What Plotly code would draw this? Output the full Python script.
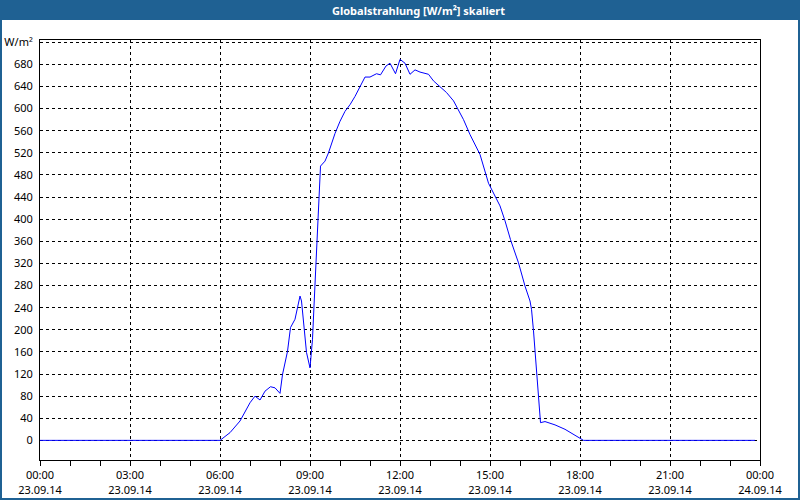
import plotly.graph_objects as go

# --- data ---
times = [
    "2014-09-23 00:00", "2014-09-23 06:00", "2014-09-23 06:20", "2014-09-23 06:40",
    "2014-09-23 07:00", "2014-09-23 07:10", "2014-09-23 07:20", "2014-09-23 07:30",
    "2014-09-23 07:41", "2014-09-23 07:50", "2014-09-23 08:00", "2014-09-23 08:05",
    "2014-09-23 08:15", "2014-09-23 08:21", "2014-09-23 08:30", "2014-09-23 08:40",
    "2014-09-23 08:43", "2014-09-23 08:48", "2014-09-23 08:53", "2014-09-23 09:00",
    "2014-09-23 09:02", "2014-09-23 09:05", "2014-09-23 09:08", "2014-09-23 09:12",
    "2014-09-23 09:20", "2014-09-23 09:21", "2014-09-23 09:30", "2014-09-23 09:37",
    "2014-09-23 09:50", "2014-09-23 10:00", "2014-09-23 10:10", "2014-09-23 10:20",
    "2014-09-23 10:30", "2014-09-23 10:40", "2014-09-23 10:50", "2014-09-23 11:00",
    "2014-09-23 11:13", "2014-09-23 11:21", "2014-09-23 11:32", "2014-09-23 11:40",
    "2014-09-23 11:51", "2014-09-23 12:00", "2014-09-23 12:10", "2014-09-23 12:20",
    "2014-09-23 12:30", "2014-09-23 12:40", "2014-09-23 12:57", "2014-09-23 13:07",
    "2014-09-23 13:20", "2014-09-23 13:33", "2014-09-23 13:47", "2014-09-23 13:57",
    "2014-09-23 14:07", "2014-09-23 14:20", "2014-09-23 14:40", "2014-09-23 14:57",
    "2014-09-23 15:07", "2014-09-23 15:20", "2014-09-23 15:30", "2014-09-23 15:41",
    "2014-09-23 15:57", "2014-09-23 16:10", "2014-09-23 16:20", "2014-09-23 16:23",
    "2014-09-23 16:27", "2014-09-23 16:30", "2014-09-23 16:33", "2014-09-23 16:37",
    "2014-09-23 16:40", "2014-09-23 16:41", "2014-09-23 16:50", "2014-09-23 17:10",
    "2014-09-23 17:30", "2014-09-23 17:47", "2014-09-23 18:03", "2014-09-23 18:07",
    "2014-09-23 23:50",
]
values = [
    0, 0, 14, 35,
    68, 80, 73, 89,
    97, 95, 85, 119,
    161, 204, 219, 261,
    252, 201, 159, 131,
    150, 183, 243, 321,
    457, 496, 505, 520,
    555, 577, 595, 607,
    622, 640, 657, 657,
    663, 661, 677, 682,
    663, 689, 682, 662,
    670, 666, 662, 650,
    640, 629, 614, 598,
    580, 553, 517, 465,
    448, 424, 397, 363,
    321, 279, 252, 237,
    198, 161, 122, 80,
    41, 32, 34, 28,
    20, 11, 2, 0,
    0,
]

x_tickvals = ["2014-09-23 00:00", "2014-09-23 03:00", "2014-09-23 06:00", "2014-09-23 09:00",
              "2014-09-23 12:00", "2014-09-23 15:00", "2014-09-23 18:00", "2014-09-23 21:00",
              "2014-09-24 00:00"]
x_ticktext = ["00:00<br>23.09.14", "03:00<br>23.09.14", "06:00<br>23.09.14", "09:00<br>23.09.14",
              "12:00<br>23.09.14", "15:00<br>23.09.14", "18:00<br>23.09.14", "21:00<br>23.09.14",
              "00:00<br>24.09.14"]
y_tickvals = list(range(0, 721, 40))
y_ticktext = [str(v) for v in range(0, 681, 40)] + ["W/m²"]

title_text = "Globalstrahlung [W/m²] skaliert"

W, H = 800, 500
BLUE = "#1f6193"

fig = go.Figure()
fig.add_trace(go.Scatter(x=times, y=values, mode="lines",
                         line=dict(color="#0000ff", width=1), showlegend=False,
                         hoverinfo="skip"))

font = dict(family="Noto Sans, DejaVu Sans, sans-serif", size=11, color="#000000")

fig.update_layout(
    width=W, height=H,
    margin=dict(l=40, r=40, t=40, b=40, pad=0),
    paper_bgcolor="#ffffff",
    plot_bgcolor="#ffffff",
    font=font,
    showlegend=False,
    xaxis=dict(
        type="date",
        automargin=False,
        range=["2014-09-23 00:00", "2014-09-24 00:00"],
        tickvals=x_tickvals, ticktext=x_ticktext,
        ticks="outside", ticklen=5, tickcolor="#000000", tickwidth=1,
        showgrid=True, gridcolor="#000000", gridwidth=1, griddash="3px,3px",
        showline=True, linecolor="#000000", linewidth=1, mirror=True,
        zeroline=False,
        minor=dict(ticks="outside", ticklen=5, dtick=3600000, tickcolor="#000000",
                   showgrid=False),
        tickfont=font,
    ),
    yaxis=dict(
        automargin=False,
        range=[-35.5, 724],
        tickvals=y_tickvals, ticktext=y_ticktext,
        ticks="", ticklabelstandoff=4,
        showgrid=True, gridcolor="#000000", gridwidth=1, griddash="3px,3px",
        showline=True, linecolor="#000000", linewidth=1, mirror=True,
        zeroline=False,
        tickfont=font,
    ),
    shapes=[
        dict(type="rect", xref="paper", yref="paper",
             x0=-40 / 720, x1=1 + 40 / 720, y0=1 + 20 / 420, y1=1 + 40 / 420,
             fillcolor=BLUE, line=dict(width=0), layer="below"),
        dict(type="rect", xref="paper", yref="paper",
             x0=-39 / 720, x1=1 + 39 / 720, y0=-39 / 420, y1=1 + 39 / 420,
             fillcolor="rgba(0,0,0,0)", line=dict(color=BLUE, width=2)),
    ],
    annotations=[
        dict(text="<b>" + title_text + "</b>", xref="paper", yref="paper",
             x=(418 - 40) / 720, y=1 + 30 / 420, xanchor="center", yanchor="middle",
             showarrow=False,
             font=dict(family="Noto Sans, DejaVu Sans, sans-serif", size=11, color="#ffffff")),
    ],
)

fig.write_html("out.html")
